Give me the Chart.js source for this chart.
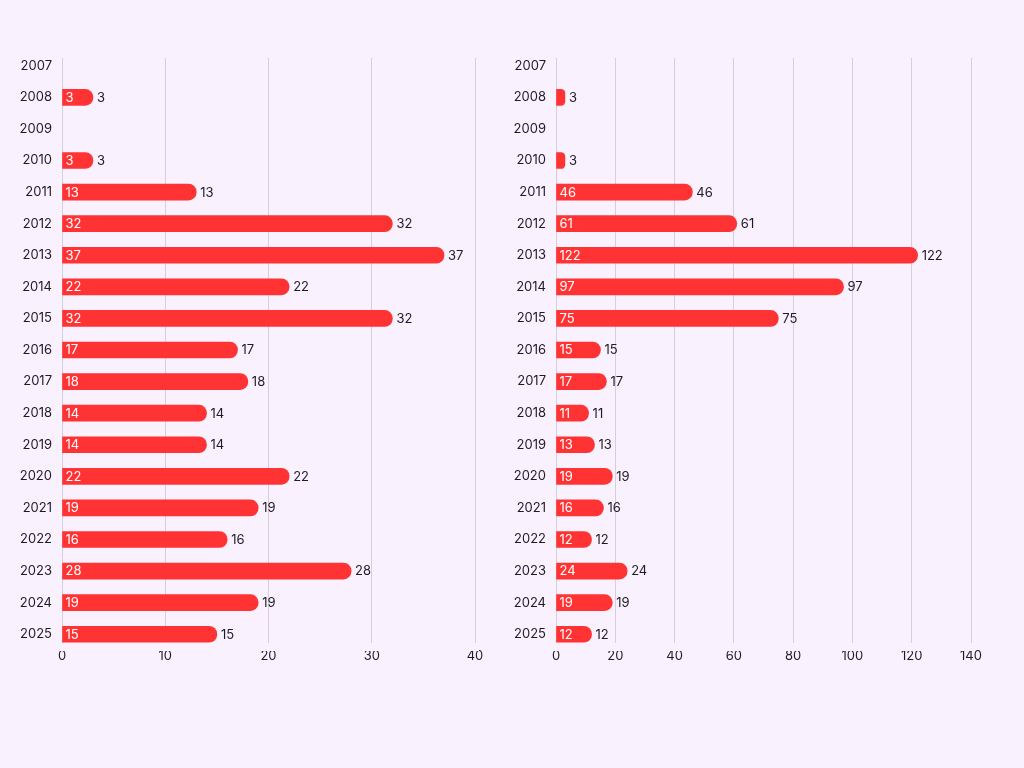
<!DOCTYPE html>
<html>
<head>
<meta charset="utf-8">
<script src="https://cdn.jsdelivr.net/npm/chart.js@4.4.1/dist/chart.umd.min.js"></script>
<style>
  html, body { margin: 0; padding: 0; background: #f9f1fd; width: 1024px; height: 768px; overflow: hidden; }
  .box { position: absolute; top: 0; height: 700px; }
  #b1 { left: 0; width: 494px; }
  #b2 { left: 494px; width: 530px; }
</style>
</head>
<body>
<div class="box" id="b1"><canvas id="c1"></canvas></div>
<div class="box" id="b2"><canvas id="c2"></canvas></div>
<script>
const years = ['2007','2008','2009','2010','2011','2012','2013','2014','2015','2016','2017','2018','2019','2020','2021','2022','2023','2024','2025'];
const leftValues = [null, 3, null, 3, 13, 32, 37, 22, 32, 17, 18, 14, 14, 22, 19, 16, 28, 19, 15];
const rightValues = [null, 3, null, 3, 46, 61, 122, 97, 75, 15, 17, 11, 13, 19, 16, 12, 24, 19, 12];
const leftTicks = [0, 10, 20, 30, 40];
const rightTicks = [0, 20, 40, 60, 80, 100, 120, 140];

const BG = '#f9f1fd';
const BAR = '#ff3334';
const TEXT = '#1f1a24';
const GRID = '#d6cedc';
const FONT = 'Inter, "DejaVu Sans", sans-serif';

const labelPlugin = {
  id: 'valueLabels',
  beforeDatasetsDraw(chart) {
    // trim grid to the visual band of the reference
    const { ctx, chartArea } = chart;
    ctx.save();
    ctx.fillStyle = BG;
    ctx.fillRect(chartArea.left - 2, chartArea.top - 1, chartArea.right - chartArea.left + 6, 9);
    ctx.fillRect(chartArea.left - 2, chartArea.bottom - 7, chartArea.right - chartArea.left + 6, 8);
    ctx.restore();
  },
  afterDatasetsDraw(chart) {
    const { ctx } = chart;
    const meta = chart.getDatasetMeta(0);
    const data = chart.data.datasets[0].data;
    ctx.save();
    ctx.font = '13px ' + FONT;
    ctx.textBaseline = 'middle';
    meta.data.forEach((bar, i) => {
      const v = data[i];
      if (v === null || v === undefined) return;
      const txt = String(v);
      const w = ctx.measureText(txt).width;
      const left = bar.base;
      const right = bar.x;
      if (right - left > w + 10) {
        ctx.fillStyle = '#ffffff';
        ctx.textAlign = 'left';
        ctx.fillText(txt, left + 3, bar.y + 0.5);
      }
      ctx.fillStyle = TEXT;
      ctx.textAlign = 'left';
      ctx.fillText(txt, right + 4, bar.y + 0.5);
    });
    ctx.restore();
  }
};

function makeChart(id, values, ticks, maxV, padRight) {
  return new Chart(document.getElementById(id), {
    type: 'bar',
    data: {
      labels: years,
      datasets: [{
        data: values,
        backgroundColor: BAR,
        borderWidth: 0,
        borderRadius: 8,
        borderSkipped: 'start',
        barThickness: 16
      }]
    },
    options: {
      indexAxis: 'y',
      responsive: true,
      maintainAspectRatio: false,
      animation: false,
      layout: { padding: { left: 0, right: padRight, top: 50, bottom: 20 } },
      plugins: { legend: { display: false }, tooltip: { enabled: false } },
      scales: {
        x: {
          min: 0,
          max: maxV,
          afterBuildTicks(scale) { scale.ticks = ticks.map(v => ({ value: v })); },
          afterFit(scale) { scale.height = 30; },
          border: { display: false },
          grid: { color: GRID, lineWidth: 1, drawTicks: false },
          ticks: { color: TEXT, font: { size: 13, family: FONT }, padding: -2, maxRotation: 0 }
        },
        y: {
          afterFit(scale) { scale.width = 62; },
          border: { display: false },
          grid: { display: false, drawTicks: false },
          ticks: { color: TEXT, font: { size: 13, family: FONT }, padding: 10 }
        }
      }
    },
    plugins: [labelPlugin]
  });
}

makeChart('c1', leftValues, leftTicks, 40, 19);
makeChart('c2', rightValues, rightTicks, 140, 53);
</script>
</body>
</html>
